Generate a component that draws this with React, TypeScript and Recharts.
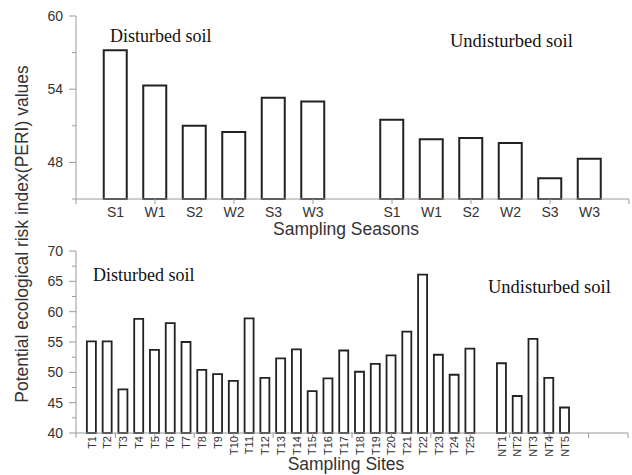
import React from "react";
import { Bar, BarChart, XAxis, YAxis } from "recharts";

const seasons = ["S1", "W1", "S2", "W2", "S3", "W3"];
const disturbedSeasonPeri = [57.2, 54.3, 51.0, 50.5, 53.3, 53.0];
const undisturbedSeasonPeri = [51.5, 49.9, 50.0, 49.6, 46.7, 48.3];

const disturbedSites = [
  "T1", "T2", "T3", "T4", "T5", "T6", "T7", "T8", "T9", "T10", "T11", "T12", "T13",
  "T14", "T15", "T16", "T17", "T18", "T19", "T20", "T21", "T22", "T23", "T24", "T25",
];
const disturbedSitePeri = [
  55.1, 55.1, 47.2, 58.8, 53.7, 58.1, 55.0, 50.4, 49.7, 48.6, 58.9, 49.1, 52.3,
  53.8, 46.9, 49.0, 53.6, 50.1, 51.4, 52.8, 56.7, 66.1, 52.9, 49.6, 53.9,
];
const undisturbedSites = ["NT1", "NT2", "NT3", "NT4", "NT5"];
const undisturbedSitePeri = [51.5, 46.1, 55.5, 49.1, 44.2];

const seasonYTicks = [45, 48, 51, 54, 57, 60];
const seasonYLabels = [48, 54, 60];
const siteYTicks = [40, 42.5, 45, 47.5, 50, 52.5, 55, 57.5, 60, 62.5, 65, 67.5, 70];
const siteYLabels = [40, 45, 50, 55, 60, 65, 70];

const AXIS = "#9a9a9a";
const INK = "#222";
const SANS = "'Liberation Sans', Arial, sans-serif";
const SERIF = "'Liberation Serif', 'Times New Roman', serif";

type Row = { pos: number; label: string; value: number };

// two groups side by side, one empty slot between them
function buildRows(aLabels: string[], aVals: number[], bLabels: string[], bVals: number[]): Row[] {
  const rows: Row[] = aLabels.map((label, i) => ({ pos: i + 1, label, value: aVals[i] }));
  bLabels.forEach((label, j) => rows.push({ pos: aLabels.length + 2 + j, label, value: bVals[j] }));
  return rows;
}

const seasonRows = buildRows(seasons, disturbedSeasonPeri, seasons, undisturbedSeasonPeri);
const siteRows = buildRows(disturbedSites, disturbedSitePeri, undisturbedSites, undisturbedSitePeri);

function makeXTick(rows: Row[], marks: number[], rotated: boolean) {
  const labelAt = new Map(rows.map((r) => [r.pos, r.label]));
  return (props: any) => {
    const { x, y, payload } = props;
    const v = payload.value;
    const label = labelAt.get(v);
    return (
      <g>
        {marks.includes(v) && <line x1={x} y1={y} x2={x} y2={y + 5} stroke={AXIS} />}
        {label &&
          (rotated ? (
            <text
              x={x}
              y={y + 3}
              dy="0.35em"
              textAnchor="end"
              transform={`rotate(-90, ${x}, ${y + 3})`}
              fontSize={11}
              fontFamily={SANS}
              fill="#333"
            >
              {label}
            </text>
          ) : (
            <text x={x} y={y + 18} textAnchor="middle" fontSize={14} fontFamily={SANS} fill="#333">
              {label}
            </text>
          ))}
      </g>
    );
  };
}

function makeYTick(labels: number[]) {
  return (props: any) => {
    const { x, y, payload } = props;
    const major = labels.includes(payload.value);
    return (
      <g>
        <line x1={x} y1={y} x2={x - (major ? 7 : 4)} y2={y} stroke={AXIS} />
        {major && (
          <text x={x - 13} y={y} dy="0.35em" textAnchor="end" fontSize={14} fontFamily={SANS} fill="#333">
            {payload.value}
          </text>
        )}
      </g>
    );
  };
}

const seasonMarks = [0, 2, 4, 6, 8, 10, 12, 14];
const siteMarks = [0, 2.5, 5, 7.5, 10, 12.5, 15, 17.5, 20, 22.5, 25, 27.5, 30, 32.5, 35];

const seasonXTicks = Array.from(new Set([...seasonMarks, ...seasonRows.map((r) => r.pos)])).sort((a, b) => a - b);
const siteXTicks = Array.from(new Set([...siteMarks, ...siteRows.map((r) => r.pos)])).sort((a, b) => a - b);

export default function App() {
  return (
    <div style={{ position: "absolute", left: 0, top: 0, width: 632, height: 475, background: "#fff" }}>
      <div style={{ position: "absolute", left: 0, top: 0 }}>
        <BarChart width={632} height={240} data={seasonRows} margin={{ top: 16, right: 3, left: 16, bottom: 11 }}>
          <XAxis
            type="number"
            dataKey="pos"
            domain={[0, 14]}
            ticks={seasonXTicks}
            interval={0}
            height={30}
            tickSize={0}
            tickMargin={0}
            tickLine={false}
            stroke={AXIS}
            tick={makeXTick(seasonRows, seasonMarks, false)}
          />
          <YAxis
            domain={[45, 60]}
            ticks={seasonYTicks}
            interval={0}
            width={60}
            tickSize={0}
            tickMargin={0}
            tickLine={false}
            stroke={AXIS}
            tick={makeYTick(seasonYLabels)}
          />
          <Bar dataKey="value" barSize={23} fill="#fff" stroke={INK} strokeWidth={2} isAnimationActive={false} />
        </BarChart>
      </div>
      <div style={{ position: "absolute", left: 0, top: 235 }}>
        <BarChart width={632} height={240} data={siteRows} margin={{ top: 16, right: 4, left: 16, bottom: 12 }}>
          <XAxis
            type="number"
            dataKey="pos"
            domain={[0, 35]}
            ticks={siteXTicks}
            interval={0}
            height={30}
            tickSize={0}
            tickMargin={0}
            tickLine={false}
            stroke={AXIS}
            tick={makeXTick(siteRows, siteMarks, true)}
          />
          <YAxis
            domain={[40, 70]}
            ticks={siteYTicks}
            interval={0}
            width={60}
            tickSize={0}
            tickMargin={0}
            tickLine={false}
            stroke={AXIS}
            tick={makeYTick(siteYLabels)}
          />
          <Bar dataKey="value" barSize={9} fill="#fff" stroke={INK} strokeWidth={1.8} isAnimationActive={false} />
        </BarChart>
      </div>
      <svg width={632} height={475} style={{ position: "absolute", left: 0, top: 0, pointerEvents: "none" }}>
        <text
          x={22}
          y={234}
          dy="0.35em"
          textAnchor="middle"
          transform="rotate(-90, 22, 234)"
          fontSize={17.5}
          fontFamily={SANS}
          fill="#333"
        >
          Potential ecological risk index(PERI) values
        </text>
        <text x={346} y={235} textAnchor="middle" fontSize={17.5} fontFamily={SANS} fill="#333">
          Sampling Seasons
        </text>
        <text x={346} y={470} textAnchor="middle" fontSize={17.5} fontFamily={SANS} fill="#333">
          Sampling Sites
        </text>
        <text x={110} y={42} fontSize={18} fontFamily={SERIF} fill="#111">
          Disturbed soil
        </text>
        <text x={450} y={47} fontSize={18.5} fontFamily={SERIF} fill="#111">
          Undisturbed soil
        </text>
        <text x={93} y={281} fontSize={18} fontFamily={SERIF} fill="#111">
          Disturbed soil
        </text>
        <text x={488} y={293} fontSize={18.5} fontFamily={SERIF} fill="#111">
          Undisturbed soil
        </text>
      </svg>
    </div>
  );
}
